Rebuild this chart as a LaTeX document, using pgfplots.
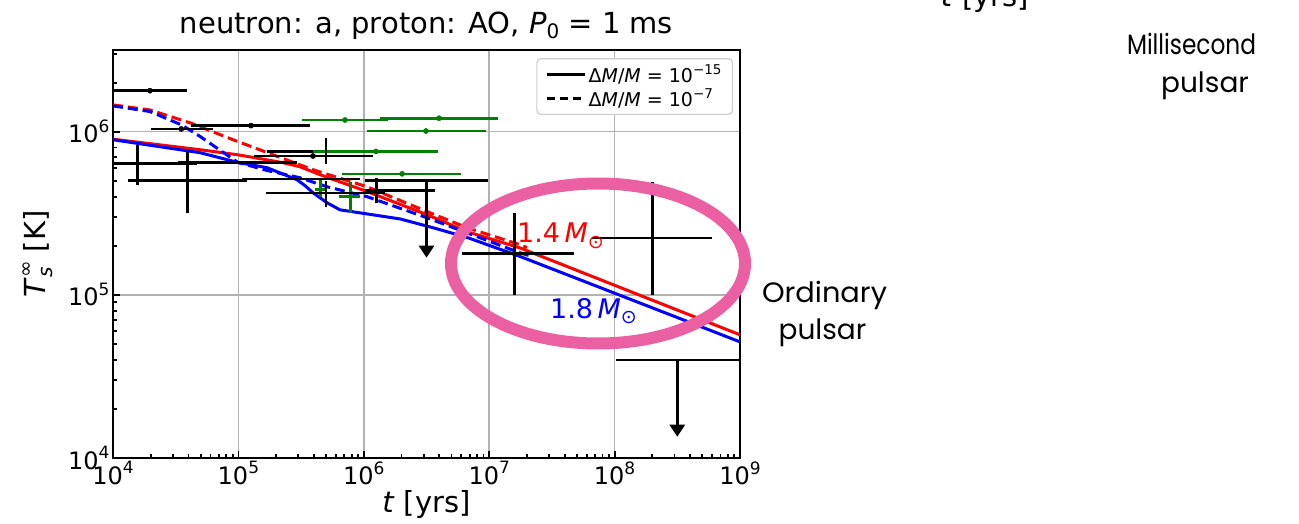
\documentclass[border=0pt]{standalone}
\usepackage{fontspec}
\setmainfont{DejaVu Sans}
\newfontfamily\comic{Poppins}
\usepackage{graphicx}
\usepackage{pgfplots}
\pgfplotsset{compat=1.18}
\usetikzlibrary{arrows.meta}
\definecolor{mplgreen}{rgb}{0,0.5,0}
\definecolor{pinkring}{RGB}{234,96,163}
\newcommand\tk[1]{10\raisebox{0.42em}{\fontsize{17}{17}\selectfont #1}}
\newcommand\lsup[1]{\raisebox{0.42em}{\fontsize{13.5}{13.5}\selectfont #1}}
\begin{document}
\begin{tikzpicture}[x=1pt,y=1pt]
\useasboundingbox (0,0) rectangle (1299,523);
\begin{axis}[
  at={(113pt,65pt)}, anchor=south west,
  scale only axis, width=627pt, height=408pt,
  xmode=log, ymode=log,
  xmin=1e4, xmax=1e9, ymin=1e4, ymax=3.17e6,
  xtick={1e4,1e5,1e6,1e7,1e8,1e9},
  xticklabels={\tk{4},\tk{5},\tk{6},\tk{7},\tk{8},\tk{9}},
  ytick={1e4,1e5,1e6},
  yticklabels={\tk{4},\tk{5},\tk{6}},
  minor xtick={2e4,3e4,4e4,5e4,6e4,7e4,8e4,9e4,2e5,3e5,4e5,5e5,6e5,7e5,8e5,9e5,2e6,3e6,4e6,5e6,6e6,7e6,8e6,9e6,2e7,3e7,4e7,5e7,6e7,7e7,8e7,9e7,2e8,3e8,4e8,5e8,6e8,7e8,8e8,9e8},
  minor ytick={2e4,3e4,4e4,5e4,6e4,7e4,8e4,9e4,2e5,3e5,4e5,5e5,6e5,7e5,8e5,9e5,2e6,3e6},
  tick label style={font=\fontsize{24}{24}\selectfont},
  tick align=inside, xtick pos=left, ytick pos=left,
  major tick length=7pt, minor tick length=4pt,
  tick style={black, line width=1.8pt},
  axis line style={line width=2.4pt},
  grid=major, major grid style={line width=1.5pt, black!30},
  title={neutron: a, proton: AO, \textit{P}\raisebox{-0.15em}{\fontsize{20}{20}\selectfont 0} = 1 ms},
  title style={at={(axis description cs:0.5,1.0245)}, anchor=base, font=\fontsize{29}{29}\selectfont},
  xlabel={\textit{t} [yrs]},
  xlabel style={at={(axis description cs:0.5,-0.115)}, anchor=center, font=\fontsize{29}{29}\selectfont},
  ylabel={\textit{T}\rlap{\raisebox{-0.22em}{\fontsize{20}{20}\selectfont\textit{s}}}\raisebox{0.45em}{\fontsize{20}{20}\selectfont ∞} [K]},
  ylabel style={at={(axis description cs:-0.12,0.5)}, anchor=center, font=\fontsize{29}{29}\selectfont},
  legend style={at={(0.989,0.980)}, anchor=north east, draw=black!20, line width=1.2pt, rounded corners=4pt, fill=white, font=\fontsize{19}{22}\selectfont, inner xsep=9pt, inner ysep=4pt, row sep=1pt},
  legend cell align=left,
  legend image code/.code={\draw[#1, line width=2.8pt] (0pt,0pt) -- (38pt,0pt);},
]
% model curves
\addplot[red, line width=3pt, forget plot] table {
x y
1e4 9.0e5
4.94e4 7.76e5
9.93e4 7.22e5
2.27e5 6.46e5
3.1e5 6.1e5
4.48e5 5.45e5
1.06e6 4.30e5
3.19e6 3.10e5
6.65e6 2.44e5
1.76e7 1.94e5
1e9 5.69e4
};
\addplot[blue, line width=3pt, forget plot] table {
x y
1e4 8.93e5
4.94e4 7.44e5
9.93e4 6.48e5
1.69e5 6.02e5
2.93e5 5.08e5
3.4e5 4.67e5
3.93e5 4.23e5
5.09e5 3.67e5
6.46e5 3.32e5
8.2e5 3.23e5
1.95e6 2.92e5
3.56e6 2.58e5
6.65e6 2.25e5
1.76e7 1.72e5
1e9 5.15e4
};
\addplot[red, line width=3pt, dash pattern=on 10pt off 5pt, forget plot] table {
x y
1e4 1.46e6
1.97e4 1.36e6
4.17e4 1.13e6
9.06e4 8.93e5
1.89e5 7.22e5
3.93e5 5.85e5
1.06e6 4.60e5
3.19e6 3.24e5
6.65e6 2.58e5
1.76e7 2.03e5
2.0e7 1.95e5
};
\addplot[blue, line width=3pt, dash pattern=on 10pt off 5pt, forget plot] table {
x y
1e4 1.44e6
1.97e4 1.33e6
3.53e4 1.10e6
4.94e4 9.36e5
8.07e4 7.22e5
9.93e4 6.48e5
1.69e5 5.79e5
3.1e5 5.22e5
5.09e5 4.60e5
1.06e6 4.00e5
3.19e6 2.97e5
6.65e6 2.40e5
1.76e7 1.81e5
2.2e7 1.72e5
};
% green observations
\addplot[mplgreen, line width=2.6pt, unbounded coords=jump, forget plot] table {
x y
3.21e5 1.18e6
1.56e6 1.18e6
nan nan
1.35e6 1.21e6
1.17e7 1.21e6
nan nan
1.06e6 1.01e6
9.42e6 1.01e6
nan nan
3.93e5 7.57e5
3.91e6 7.57e5
nan nan
6.70e5 5.52e5
5.96e6 5.52e5
nan nan
4.08e5 4.41e5
5.09e5 4.41e5
nan nan
4.53e5 3.99e5
4.53e5 5.08e5
nan nan
6.34e5 4.01e5
9.33e5 4.01e5
nan nan
7.85e5 3.18e5
7.85e5 4.93e5
};
\addplot[only marks, mark=*, mark size=2.6pt, mplgreen, forget plot] coordinates {
(7.08e5,1.18e6) (3.98e6,1.21e6) (3.13e6,1.01e6) (1.25e6,7.57e5) (2.02e6,5.52e5)};
% black observations
\addplot[black, line width=2.8pt, unbounded coords=jump, forget plot] table {
x y
8e3 1.785e6
3.89e4 1.785e6
nan nan
2.01e4 1.04e6
6.26e4 1.04e6
nan nan
4.19e4 1.09e6
3.72e5 1.09e6
nan nan
8e3 6.37e5
4.68e4 6.37e5
nan nan
3.30e4 6.48e5
2.93e5 6.48e5
nan nan
1.32e4 5.02e5
1.17e5 5.02e5
nan nan
1.07e5 5.13e5
9.33e5 5.13e5
nan nan
1.69e5 7.57e5
3.93e5 7.57e5
nan nan
1.33e5 7.10e5
1.18e6 7.10e5
nan nan
1.66e5 4.21e5
1.48e6 4.21e5
nan nan
1.02e6 5.04e5
9.77e6 5.04e5
nan nan
1.02e6 4.37e5
3.70e6 4.37e5
nan nan
6.07e6 1.785e5
4.74e7 1.785e5
nan nan
6.6e7 2.23e5
5.98e8 2.23e5
nan nan
1.03e8 3.99e4
1.2e9 3.99e4
nan nan
1.57e4 4.73e5
1.57e4 8.32e5
nan nan
3.92e4 3.18e5
3.92e4 7.54e5
nan nan
5.0e5 6.37e5
5.0e5 9.19e5
nan nan
5.0e5 3.47e5
5.0e5 5.01e5
nan nan
1.26e6 3.67e5
1.26e6 5.22e5
nan nan
1.58e7 1e5
1.58e7 3.18e5
nan nan
2.0e8 1e5
2.0e8 4.95e5
};
\addplot[only marks, mark=*, mark size=2.6pt, black, forget plot] coordinates {
(1.97e4,1.785e6) (3.5e4,1.04e6) (1.26e5,1.09e6) (3.93e5,7.10e5)};
\addplot[black, line width=2.8pt, -{Triangle[width=15pt,length=12pt]}, forget plot] coordinates {(3.16e6,5.02e5) (3.16e6,1.69e5)};
\addplot[black, line width=2.8pt, -{Triangle[width=15pt,length=12pt]}, forget plot] coordinates {(3.16e8,3.99e4) (3.16e8,1.35e4)};
\addlegendimage{black, solid}
\addlegendentry{Δ\textit{M}/\textit{M} = 10\lsup{−15}}
\addlegendimage{black, dash pattern=on 8pt off 5pt}
\addlegendentry{Δ\textit{M}/\textit{M} = 10\lsup{−7}}
\end{axis}
% annotations
\node[anchor=base west, text=red, font=\fontsize{27}{27}\selectfont, inner sep=0pt] at (517,280) {1.4\,\textit{M}\raisebox{-0.2em}{\fontsize{19}{19}\selectfont ⊙}};
\node[anchor=base west, text=blue, font=\fontsize{27}{27}\selectfont, inner sep=0pt] at (550,205) {1.8\,\textit{M}\raisebox{-0.2em}{\fontsize{19}{19}\selectfont ⊙}};
\draw[pinkring, line width=12pt] (598,259.5) ellipse [x radius=147, y radius=80];
\node[anchor=base, font=\comic\fontsize{28}{28}\selectfont, inner sep=0pt] at (824.5,221) {\scalebox{1.03}[1]{Ordinary}};
\node[anchor=base, font=\comic\fontsize{28}{28}\selectfont, inner sep=0pt] at (822.5,184) {pulsar};
\node[anchor=base, font=\comic\fontsize{28}{28}\selectfont, inner sep=0pt] at (1191.5,468) {\scalebox{0.83}[1]{Millisecond}};
\node[anchor=base, font=\comic\fontsize{28}{28}\selectfont, inner sep=0pt] at (1205,430) {pulsar};
\node[anchor=base, font=\fontsize{29}{29}\selectfont, inner sep=0pt] at (985,516) {\textit{t} [yrs]};
\end{tikzpicture}
\end{document}
